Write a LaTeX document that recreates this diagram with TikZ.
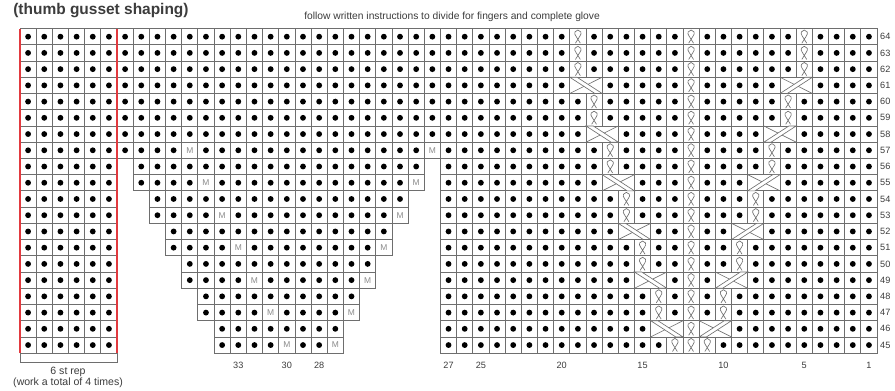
\documentclass[tikz,border=0pt]{standalone}
\usepackage{fontspec}
\setmainfont{Liberation Sans}
\usetikzlibrary{calc}
\definecolor{gridgray}{HTML}{6E6E6E}
\definecolor{repred}{HTML}{E23A3F}
\definecolor{labelgray}{HTML}{3C3C3C}
\definecolor{mgray}{HTML}{8C8C8C}

\tikzset{
  cellbox/.style = {draw=gridgray, line width=0.55pt, fill=white},
  knitdot/.style = {fill=black},
  tblline/.style = {draw=gridgray, line width=0.45pt},
  smalllabel/.style = {font=\fontsize{6.5}{7}\selectfont, text=labelgray, inner sep=0pt},
  tbl/.pic = {
    \path[tblline] (-0.15,-0.4) -- (0.12,0.03) .. controls (0.28,0.22) and (0.16,0.41) .. (0,0.41) .. controls (-0.16,0.41) and (-0.28,0.22) .. (-0.12,0.03) -- (0.15,-0.4);
  },
  crossband/.pic = {
    % band over, other stitch behind
    \path[tblline, fill=white] (0,1) -- (0.45,1) -- (2,0) -- (1.55,0) -- cycle;
    \path[tblline] (0,0) -- (0.873,0.437);
    \path[tblline] (1.127,0.563) -- (2,1);
  }
}
\newcommand\knitcell[2]{%
  \path[cellbox] (#1,#2) rectangle ++(1,1);
  \path[knitdot] (#1+0.5,#2+0.5) circle (0.18);
}
\newcommand\tblcell[2]{%
  \path[cellbox] (#1,#2) rectangle ++(1,1);
  \pic at (#1+0.5,#2+0.5) {tbl};
}
\newcommand\mcell[2]{%
  \path[cellbox] (#1,#2) rectangle ++(1,1);
  \path (#1+0.5,#2+0.5) node[font=\fontsize{6}{6}\selectfont, text=mgray, inner sep=0pt]{M};
}

\begin{document}
\begin{tikzpicture}[x=0.40425cm, y=0.40575cm]
    % frame
    \path[fill=white, use as bounding box](-1.237,-2.33)rectangle(54.11,21.76);
    % full rows 57-64
    \foreach \r in {12,...,19}{\foreach \j in {0,...,52}{\knitcell{\j}{\r}}}
    % rep block and right block, rows 45-56
    \foreach \r in {0,...,11}{
        \foreach \j in {0,...,5}{\knitcell{\j}{\r}}
        \foreach \j in {26,...,52}{\knitcell{\j}{\r}}
    }
    % gusset
    \foreach \r in {0,...,11}{
        \pgfmathtruncatemacro\k{(11-\r)/2}
        \pgfmathtruncatemacro\jl{7+\k}
        \pgfmathtruncatemacro\jr{24-\k}
        \foreach \j in {\jl,...,\jr}{\knitcell{\j}{\r}}
    }
    % make one
    \foreach \m in {0,...,6}{
        \pgfmathtruncatemacro\r{12-2*\m}
        \pgfmathtruncatemacro\jl{10+\m}
        \pgfmathtruncatemacro\jr{25-\m}
        \mcell{\jl}{\r}\mcell{\jr}{\r}
    }
    % centre twisted column
    \foreach \r in {0,...,19}{\tblcell{41}{\r}}
    \tblcell{40}{0}\tblcell{42}{0}
    \tblcell{34}{19}\tblcell{48}{19}
    % travelling stitches
    \foreach \m in {0,...,5}{
        \pgfmathtruncatemacro\ra{1+3*\m}
        \pgfmathtruncatemacro\rb{2+3*\m}
        \pgfmathtruncatemacro\rc{3+3*\m}
        \pgfmathtruncatemacro\jl{39-\m}
        \pgfmathtruncatemacro\jr{43+\m}
        \pgfmathtruncatemacro\xr{42+\m}
        \tblcell{\jl}{\rb}\tblcell{\jl}{\rc}
        \tblcell{\jr}{\rb}\tblcell{\jr}{\rc}
        \path[cellbox](\jl,\ra)rectangle++(2,1);
        \pic at (\jl,\ra){crossband};
        \path[cellbox](\xr,\ra)rectangle++(2,1);
        \pic[xscale=-1] at (\xr+2,\ra){crossband};
    }
    % repeat lines
    \path[draw, repred, line width=1.4pt](0,0)to(0,20);
    \path[draw, repred, line width=1.4pt](6,0)to(6,20);
    % bracket
    \path[draw, gridgray, line width=0.55pt](0,0)to(0,-0.54)to(6,-0.54)to(6,0);
    % texts
    \node[anchor=base west, font=\fontsize{11}{12}\selectfont\bfseries, text=labelgray, inner sep=0pt](title) at (-0.43,20.87){(thumb gusset shaping)};
    \node[smalllabel, font=\fontsize{7.3}{8}\selectfont](instr) at (26.72,20.72){follow written instructions to divide for fingers and complete glove};
    \foreach \r in {0,...,19}{
        \pgfmathtruncatemacro\rowno{45+\r}
        \node[smalllabel, anchor=west](row\rowno) at (53.18,\r+0.5){\rowno};
    }
    \foreach \j/\c in {13/33,16/30,18/28,26/27,28/25,33/20,38/15,43/10,48/5,52/1}{
        \node[smalllabel](col\c) at (\j+0.5,-0.73){\c};
    }
    \node[smalllabel, font=\fontsize{7.5}{8}\selectfont](rep) at (2.97,-1.16){6 st rep};
    \node[smalllabel, font=\fontsize{7.5}{8}\selectfont](reptimes) at (2.97,-1.84){(work a total of 4 times)};
\end{tikzpicture}
\end{document}
